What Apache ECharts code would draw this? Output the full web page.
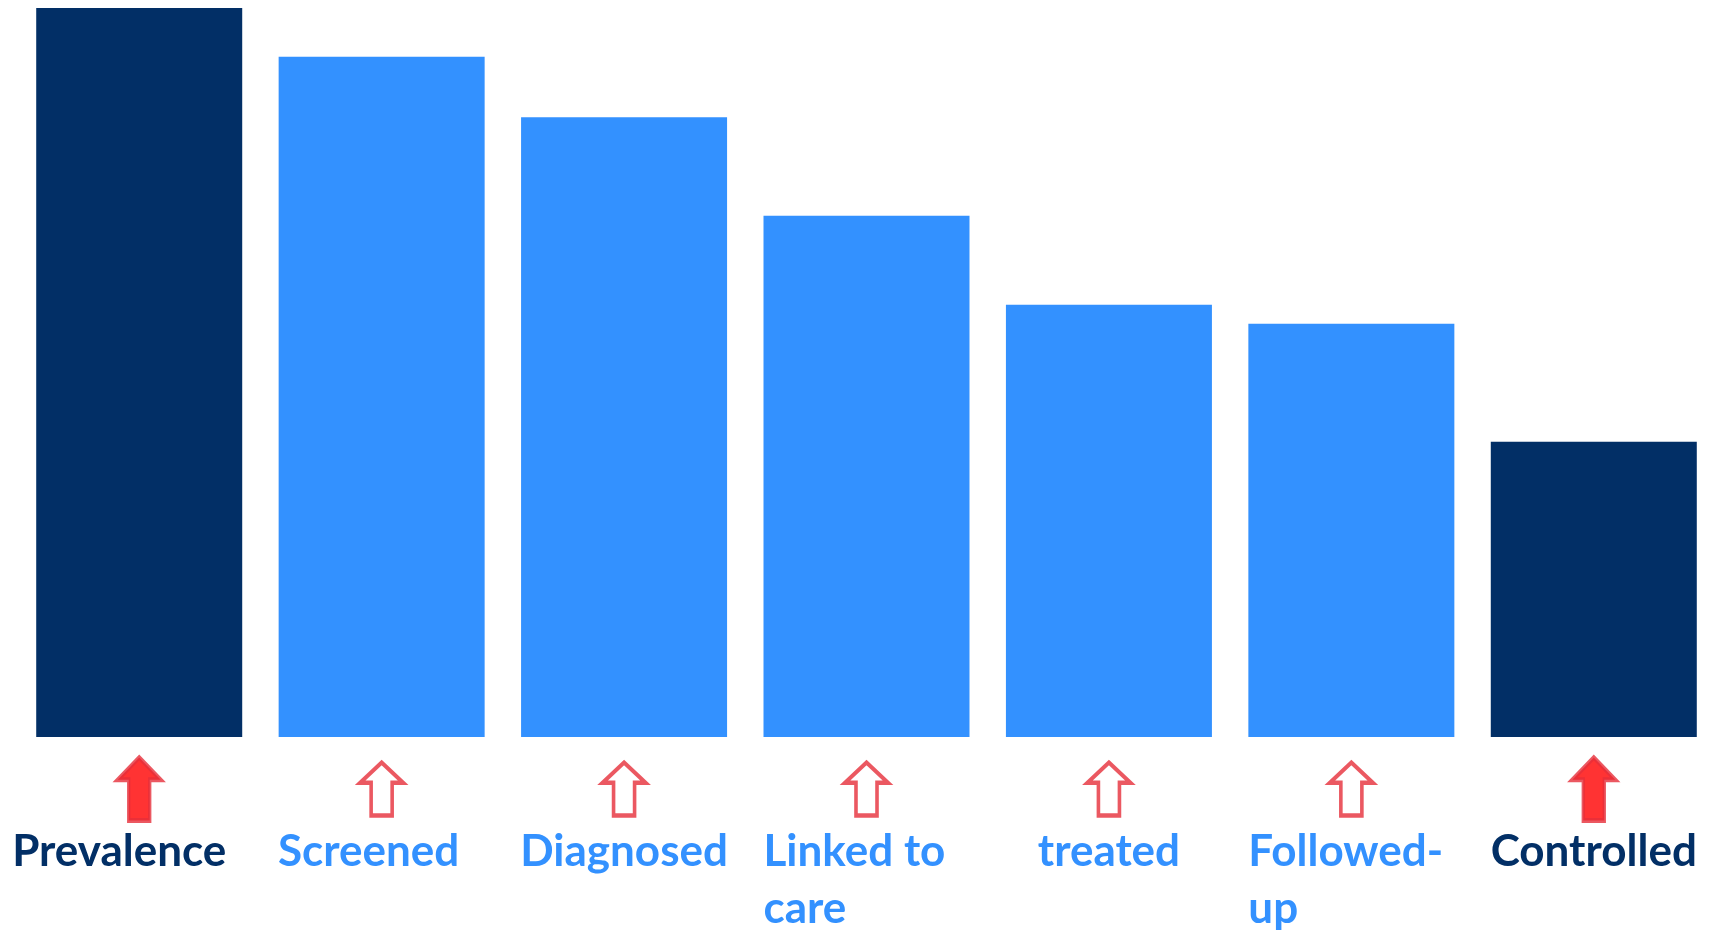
<!DOCTYPE html>
<html>
<head>
<meta charset="utf-8">
<title>Care cascade</title>
<script src="https://cdn.jsdelivr.net/npm/echarts@6/dist/echarts.min.js"></script>
<style>
  html, body { margin: 0; padding: 0; background: #ffffff; }
  #chart { width: 1715px; height: 938px; }
</style>
</head>
<body>
<div id="chart"></div>
<script>
// Cascade stages, from population prevalence down to control
const stages = ['Prevalence', 'Screened', 'Diagnosed', 'Linked to\ncare', 'treated', 'Followed-\nup', 'Controlled'];
// Relative size of each stage (prevalence = 100)
const values = [100, 93.3, 85.0, 71.5, 59.3, 56.7, 40.5];
// Outcome measures vs. intermediate care steps
const stageKind = ['outcome', 'step', 'step', 'step', 'step', 'step', 'outcome'];
// Stages whose label block is left-aligned under the bar
const leftAligned = ['Linked to\ncare', 'Followed-\nup'];

const NAVY = '#022F66';
const BLUE = '#3391FF';
const RED = '#FF0000';
const RED_EDGE = '#E62E3A';

const ARROW_SOLID = 'path://M22.5,0 L45,23 L33.5,23 L33.5,65 L11.5,65 L11.5,23 L0,23 Z';
const ARROW_HOLLOW = 'path://M22.5,0 L45,21 L33.5,21 L33.5,55 L11.5,55 L11.5,21 L0,21 Z';

const FONT = 'Lato, "Open Sans", sans-serif';
const FS = 44;
const LH = 57;

function richFor(color) {
  return { color: color, fontFamily: FONT, fontWeight: 'bold', fontSize: FS, lineHeight: LH };
}

const chart = echarts.init(document.getElementById('chart'), null, { renderer: 'canvas' });

chart.setOption({
  backgroundColor: '#ffffff',
  animation: false,
  grid: [
    { left: 18, width: 1702, top: 8, bottom: 201 },
    { left: 18, width: 1702, top: 758, height: 62 }
  ],
  xAxis: [
    {
      type: 'category',
      gridIndex: 0,
      data: stages,
      axisLine: { show: false },
      axisTick: { show: false },
      axisLabel: {
        interval: 0,
        margin: 86,
        verticalAlign: 'top',
        formatter: function (value, idx) {
          const kind = stageKind[idx] === 'outcome' ? 'o' : 's';
          if (leftAligned.indexOf(value) >= 0) {
            return value.split('\n').map(l => '{' + kind + 'L|' + l + '}').join('\n');
          }
          if (idx === 0) return '{oP|' + value + '}';
          if (idx === 1) return '{sS|' + value + '}';
          return value.split('\n').map(l => '{' + kind + '|' + l + '}').join('\n');
        },
        rich: {
          o: richFor(NAVY),
          s: richFor(BLUE),
          oL: Object.assign(richFor(NAVY), { width: 206, align: 'left' }),
          sL: Object.assign(richFor(BLUE), { width: 206, align: 'left' }),
          oP: Object.assign(richFor(NAVY), { padding: [0, 40, 0, 0] }),
          sS: Object.assign(richFor(BLUE), { padding: [0, 26, 0, 0] })
        }
      }
    },
    {
      type: 'category',
      gridIndex: 1,
      data: stages,
      show: false
    }
  ],
  yAxis: [
    { type: 'value', gridIndex: 0, min: 0, max: 100, show: false },
    { type: 'value', gridIndex: 1, min: 0, max: 1, show: false }
  ],
  series: [
    {
      type: 'bar',
      xAxisIndex: 0,
      yAxisIndex: 0,
      barWidth: 206,
      data: values.map((v, i) => ({
        value: v,
        itemStyle: { color: stageKind[i] === 'outcome' ? NAVY : BLUE }
      }))
    },
    {
      type: 'scatter',
      xAxisIndex: 1,
      yAxisIndex: 1,
      silent: true,
      data: stages.map((s, i) => {
        const solid = stageKind[i] === 'outcome';
        return {
          value: [s, 0.5],
          symbol: solid ? ARROW_SOLID : ARROW_HOLLOW,
          symbolSize: solid ? [43, 63] : [43, 53],
          itemStyle: {
            color: solid ? RED : '#ffffff',
            borderColor: RED_EDGE,
            borderWidth: 4
          }
        };
      })
    }
  ]
});
</script>
</body>
</html>
